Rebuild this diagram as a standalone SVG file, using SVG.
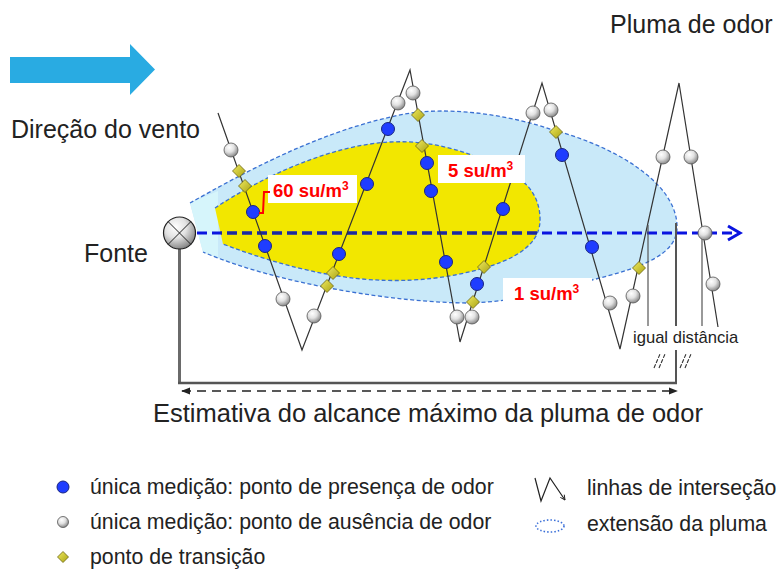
<svg xmlns="http://www.w3.org/2000/svg" xmlns:xlink="http://www.w3.org/1999/xlink" width="776" height="569" viewBox="0 0 776 569">
<style>
  .t{font-family:"Liberation Sans",Arial,sans-serif;fill:#222}
  .big{font-size:25px}
  .leg{font-size:21.3px}
  .red{font-family:"Liberation Sans",Arial,sans-serif;font-weight:bold;fill:#ff0000;font-size:18.5px}
  .zig{fill:none;stroke:#333;stroke-width:1.2;stroke-linejoin:miter}
  .edge{fill:none;stroke:#3a70d2;stroke-width:1.3;stroke-dasharray:4 2.5}
  .vl{stroke:#555;stroke-width:1.2}
  .blue{fill:#1f3dff;stroke:#1a2580;stroke-width:1}
  .box{fill:#fff}
</style>
<defs>
  <radialGradient id="gb" cx="0.38" cy="0.32" r="0.75">
    <stop offset="0" stop-color="#ffffff"/>
    <stop offset="0.45" stop-color="#e2e2e2"/>
    <stop offset="0.85" stop-color="#959595"/>
    <stop offset="1" stop-color="#707070"/>
  </radialGradient>
  <linearGradient id="dg" x1="0" y1="0" x2="1" y2="1">
    <stop offset="0" stop-color="#f0ea60"/>
    <stop offset="1" stop-color="#a9a312"/>
  </linearGradient>
  <circle id="ga" r="7" fill="url(#gb)" stroke="#555" stroke-width="0.8"/>
  <circle id="bl" r="6.5" class="blue"/>
  <path id="dm" d="M0,-6.5 L6.5,0 L0,6.5 L-6.5,0Z" fill="url(#dg)" stroke="#6b6510" stroke-width="0.8"/>
  <path id="yel" d="M215,208 C260,178 330,145 390,142 C430,140 460,150 490,162 C525,176 541,195 540,222 C538,250 505,265 455,275 C400,285 330,285 223,244 Z"/>
  <clipPath id="yclip"><use xlink:href="#yel"/></clipPath>
  <marker id="ah" viewBox="0 0 10 10" refX="9" refY="5" markerWidth="6" markerHeight="6" orient="auto-start-reverse">
    <path d="M0,1 L10,5 L0,9 Z" fill="#222"/>
  </marker>
  <marker id="oa" viewBox="0 0 10 10" refX="9" refY="5" markerWidth="5" markerHeight="5" orient="auto">
    <path d="M1,1 L9,5 L1,9" fill="none" stroke="#222" stroke-width="1.5"/>
  </marker>
</defs>
<rect width="776" height="569" fill="#fff"/>

<g id="wind">
  <polygon points="10,57 130,57 130,44 155,69.5 130,95 130,83 10,83" fill="#29abe2"/>
  <text class="t big" x="11" y="138">Direção do vento</text>
</g>
<text id="title" class="t big" x="610" y="33">Pluma de odor</text>

<g id="plume">
  <path d="M190,203 C240,175 320,130 405,114 C450,106 510,115 553,130 C610,145 675,180 677,225 C679,255 640,268 592,280 C550,292 510,302 470,303 C400,303 280,285 203,252 Z" fill="#c9e9f9"/>
  <polygon points="190,203 218,191 218,258 203,252" fill="#d6f5fb"/>
  <path class="edge" d="M190,203 C240,175 320,130 405,114 C450,106 510,115 553,130 C610,145 675,180 677,225 C679,255 640,268 592,280 C550,292 510,302 470,303 C400,303 280,285 203,252"/>
  <use xlink:href="#yel" fill="#f2e700"/>
  <path class="edge" d="M215,208 C260,178 330,145 390,142 C430,140 460,150 490,162 C525,176 541,195 540,222 C538,250 505,265 455,275 C400,285 330,285 223,244"/>
</g>

<g id="connectors">
  <line x1="197" y1="233" x2="738" y2="233" stroke="#0a14e0" stroke-width="3" stroke-dasharray="10 5"/>
  <line x1="197" y1="233" x2="738" y2="233" stroke="#1c2a9e" stroke-width="3" stroke-dasharray="10 5" clip-path="url(#yclip)"/>
  <polyline points="728,226 740,233 728,240" fill="none" stroke="#0a14e0" stroke-width="3"/>
  <polyline class="zig" points="218,113 302,350 410,70 460,342 542,83 620,349 679,83 718,327"/>
  <line class="vl" x1="648" y1="225" x2="648" y2="326"/>
  <line x1="676" y1="223" x2="676" y2="326" stroke="#555" stroke-width="2"/>
  <line class="vl" x1="702" y1="233" x2="702" y2="326"/>
  <line x1="179.5" y1="249" x2="179.5" y2="383" stroke="#6a6a6a" stroke-width="3"/>
  <line x1="178" y1="383" x2="677" y2="383" stroke="#555" stroke-width="2.5"/>
  <line x1="676" y1="350" x2="676" y2="384" stroke="#555" stroke-width="2"/>
  <line x1="182" y1="391" x2="677" y2="391" stroke="#222" stroke-width="1.5" stroke-dasharray="9 6" marker-start="url(#ah)" marker-end="url(#ah)"/>
  <g stroke="#333" stroke-width="1.1" stroke-dasharray="4 1.5">
    <line x1="654" y1="368" x2="660" y2="354"/>
    <line x1="659" y1="368" x2="665" y2="354"/>
    <line x1="680" y1="368" x2="686" y2="354"/>
    <line x1="685" y1="368" x2="691" y2="354"/>
  </g>
</g>

<g id="source">
  <circle cx="179.5" cy="233" r="16" fill="url(#gb)" stroke="#222" stroke-width="1.2"/>
  <path d="M168.2,221.7 L190.8,244.3 M190.8,221.7 L168.2,244.3" stroke="#222" stroke-width="1"/>
  <text class="t big" x="84" y="262">Fonte</text>
</g>

<g id="measurements">
  <use xlink:href="#ga" x="231" y="150"/>
  <use xlink:href="#dm" x="239" y="171"/>
  <use xlink:href="#dm" x="245" y="186"/>
  <use xlink:href="#bl" x="253" y="212"/>
  <use xlink:href="#bl" x="265" y="246"/>
  <use xlink:href="#ga" x="283" y="299"/>

  <use xlink:href="#ga" x="314" y="316"/>
  <use xlink:href="#dm" x="327" y="286"/>
  <use xlink:href="#dm" x="333" y="273"/>
  <use xlink:href="#bl" x="339" y="254"/>
  <use xlink:href="#bl" x="367" y="184"/>
  <use xlink:href="#bl" x="388" y="129"/>
  <use xlink:href="#ga" x="398" y="103"/>

  <use xlink:href="#ga" x="413" y="93"/>
  <use xlink:href="#dm" x="418" y="115"/>
  <use xlink:href="#dm" x="422" y="146"/>
  <use xlink:href="#bl" x="427" y="163"/>
  <use xlink:href="#bl" x="431" y="191"/>
  <use xlink:href="#bl" x="446" y="262"/>
  <use xlink:href="#ga" x="457" y="317"/>

  <use xlink:href="#ga" x="472" y="317"/>
  <use xlink:href="#dm" x="473" y="302"/>
  <use xlink:href="#bl" x="477" y="284"/>
  <use xlink:href="#dm" x="484" y="267"/>
  <use xlink:href="#bl" x="503" y="209"/>
  <use xlink:href="#ga" x="533" y="113"/>

  <use xlink:href="#ga" x="551" y="110"/>
  <use xlink:href="#dm" x="556" y="132"/>
  <use xlink:href="#bl" x="562" y="155"/>
  <use xlink:href="#bl" x="592" y="247"/>
  <use xlink:href="#ga" x="610" y="303"/>

  <use xlink:href="#ga" x="633" y="296"/>
  <use xlink:href="#dm" x="639" y="268"/>
  <use xlink:href="#ga" x="663" y="157"/>

  <use xlink:href="#ga" x="691" y="157"/>
  <use xlink:href="#ga" x="705" y="233"/>
  <use xlink:href="#ga" x="713" y="284"/>
</g>

<g id="labels">
  <rect class="box" x="268" y="175" width="89" height="28"/>
  <path d="M259,213 L263,213 L264,192 L270,192" fill="none" stroke="#ff0000" stroke-width="2"/>
  <text class="red" x="273" y="197">60 su/m<tspan font-size="12" dy="-7">3</tspan></text>
  <rect class="box" x="438" y="155" width="87" height="28"/>
  <text class="red" x="448" y="177">5 su/m<tspan font-size="12" dy="-7">3</tspan></text>
  <rect class="box" x="503" y="278" width="89" height="31"/>
  <text class="red" x="514" y="300">1 su/m<tspan font-size="12" dy="-7">3</tspan></text>
  <text class="t" font-size="16.6" x="633" y="343">igual distância</text>
  <text class="t" font-size="25.5" x="153" y="422">Estimativa do alcance máximo da pluma de odor</text>
</g>

<g id="legend">
  <circle cx="63" cy="487" r="6" class="blue"/>
  <circle cx="63" cy="522" r="5.5" fill="url(#gb)" stroke="#555" stroke-width="0.8"/>
  <path d="M63,551.5 L68.5,557 L63,562.5 L57.5,557Z" fill="url(#dg)" stroke="#6b6510" stroke-width="0.8"/>
  <text class="t leg" x="90" y="494">única medição: ponto de presença de odor</text>
  <text class="t leg" x="90" y="529">única medição: ponto de ausência de odor</text>
  <text class="t leg" x="90" y="564">ponto de transição</text>
  <polyline points="535,478 541,501 550,478 565,500" fill="none" stroke="#222" stroke-width="1.2" marker-end="url(#oa)"/>
  <ellipse cx="550" cy="526" rx="14" ry="6" fill="none" stroke="#3a6fd8" stroke-width="1.6" stroke-dasharray="1.5 2"/>
  <text class="t leg" x="587" y="495">linhas de interseção</text>
  <text class="t leg" x="587" y="531">extensão da pluma</text>
</g>
</svg>
